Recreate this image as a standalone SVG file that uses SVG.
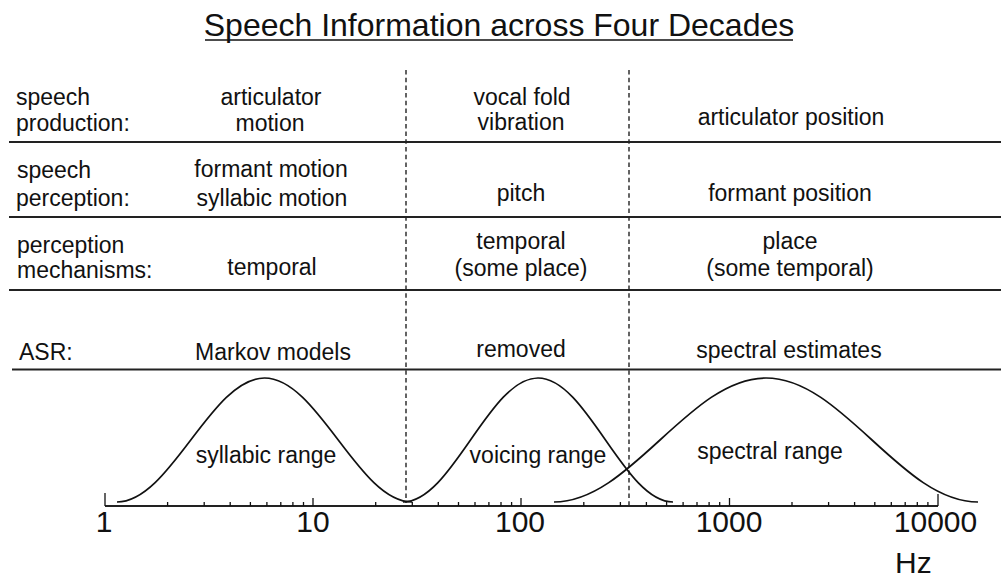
<svg xmlns="http://www.w3.org/2000/svg" width="1001" height="577" viewBox="0 0 1001 577">
<style>
  text { font-family: "Liberation Sans", Arial, sans-serif; fill: #111; }
  .t { font-size: 23px; }
  .c { text-anchor: middle; }
  .ax { font-size: 30px; text-anchor: middle; }
  .rule { stroke: #222; stroke-width: 2; fill: none; }
  .dash { stroke: #222; stroke-width: 1.4; stroke-dasharray: 4.5 3.2; fill: none; }
  .curve { stroke: #111; stroke-width: 1.7; fill: none; }
  .tick { stroke: #111; stroke-width: 1.3; }
</style>
<rect width="1001" height="577" fill="#fff"/>

<g id="title">
  <text x="499" y="36" text-anchor="middle" font-size="32">Speech Information across Four Decades</text>
  <line x1="205" y1="40" x2="793" y2="40" stroke="#111" stroke-width="1.6"/>
</g>

<g id="table-rules">
  <line class="rule" x1="9" y1="142" x2="1001" y2="142"/>
  <line class="rule" x1="9" y1="217" x2="1001" y2="217"/>
  <line class="rule" x1="9" y1="290" x2="1001" y2="290"/>
  <line class="rule" x1="12" y1="369.5" x2="1001" y2="369.5"/>
</g>

<g id="dividers">
  <line class="dash" x1="406" y1="70" x2="406" y2="503"/>
  <line class="dash" x1="629" y1="70" x2="629" y2="506"/>
</g>

<g id="row-production">
  <text class="t" x="16" y="105">speech</text>
  <text class="t" x="16" y="131">production:</text>
  <text class="t c" x="271" y="105">articulator</text>
  <text class="t c" x="270" y="131">motion</text>
  <text class="t c" x="522" y="105">vocal fold</text>
  <text class="t c" x="521" y="130">vibration</text>
  <text class="t c" x="791" y="125">articulator position</text>
</g>

<g id="row-perception">
  <text class="t" x="17" y="178">speech</text>
  <text class="t" x="16" y="206">perception:</text>
  <text class="t c" x="271" y="177">formant motion</text>
  <text class="t c" x="272" y="206">syllabic motion</text>
  <text class="t c" x="521" y="201">pitch</text>
  <text class="t c" x="790" y="201">formant position</text>
</g>

<g id="row-mechanisms">
  <text class="t" x="17" y="253">perception</text>
  <text class="t" x="17" y="278">mechanisms:</text>
  <text class="t c" x="272" y="275">temporal</text>
  <text class="t c" x="521" y="249">temporal</text>
  <text class="t c" x="521" y="276">(some place)</text>
  <text class="t c" x="790" y="249">place</text>
  <text class="t c" x="790" y="276">(some temporal)</text>
</g>

<g id="row-asr">
  <text class="t" x="19" y="360">ASR:</text>
  <text class="t c" x="273" y="360">Markov models</text>
  <text class="t c" x="521" y="357">removed</text>
  <text class="t c" x="789" y="358">spectral estimates</text>
</g>

<g id="axis">
  <line class="rule" x1="105" y1="506" x2="938" y2="506" stroke-width="1.8"/>
  <line class="tick" x1="105" y1="493" x2="105" y2="506" stroke-width="1.6"/>
  <line class="tick" x1="938" y1="494" x2="938" y2="506" stroke-width="1.6"/>
  <line class="tick" x1="313" y1="498" x2="313" y2="506"/>
  <line class="tick" x1="521" y1="498" x2="521" y2="506"/>
  <line class="tick" x1="729.5" y1="498" x2="729.5" y2="506"/>
  <g id="minor-ticks">
    <path class="tick" d="M167.6,502V506 M204.2,502V506 M230.2,502V506 M250.4,502V506 M266.9,502V506 M280.8,502V506 M292.9,502V506 M303.5,502V506
      M375.7,502V506 M412.3,502V506 M438.3,502V506 M458.5,502V506 M475,502V506 M488.9,502V506 M501,502V506 M511.6,502V506
      M583.8,502V506 M620.4,502V506 M646.4,502V506 M666.6,502V506 M683.1,502V506 M697,502V506 M709.1,502V506 M719.7,502V506
      M792,502V506 M828.6,502V506 M854.6,502V506 M874.8,502V506 M891.3,502V506 M905.2,502V506 M917.3,502V506 M927.9,502V506"/>
  </g>
  <text class="ax" x="104" y="532">1</text>
  <text class="ax" x="313" y="532">10</text>
  <text class="ax" x="520" y="532">100</text>
  <text class="ax" x="729" y="532">1000</text>
  <text class="ax" x="935.5" y="532">10000</text>
  <text x="895" y="573" font-size="30">Hz</text>
</g>

<g id="syllabic-range">
  <path class="curve" d="M117,502 C170.6,502 210.9,378 264.5,378 C318.1,378 358.4,502 412,502"/>
  <text class="t c" x="266" y="463">syllabic range</text>
</g>

<g id="voicing-range">
  <path class="curve" d="M403,502 C452.1,502 488.9,378 538,378 C587.1,378 623.9,502 673,502"/>
  <text class="t c" x="538" y="463">voicing range</text>
</g>

<g id="spectral-range">
  <path class="curve" d="M554,502 C631,502 689,378 766,378 C843,378 901,502 978,502"/>
  <text class="t c" x="770" y="459">spectral range</text>
</g>
</svg>
